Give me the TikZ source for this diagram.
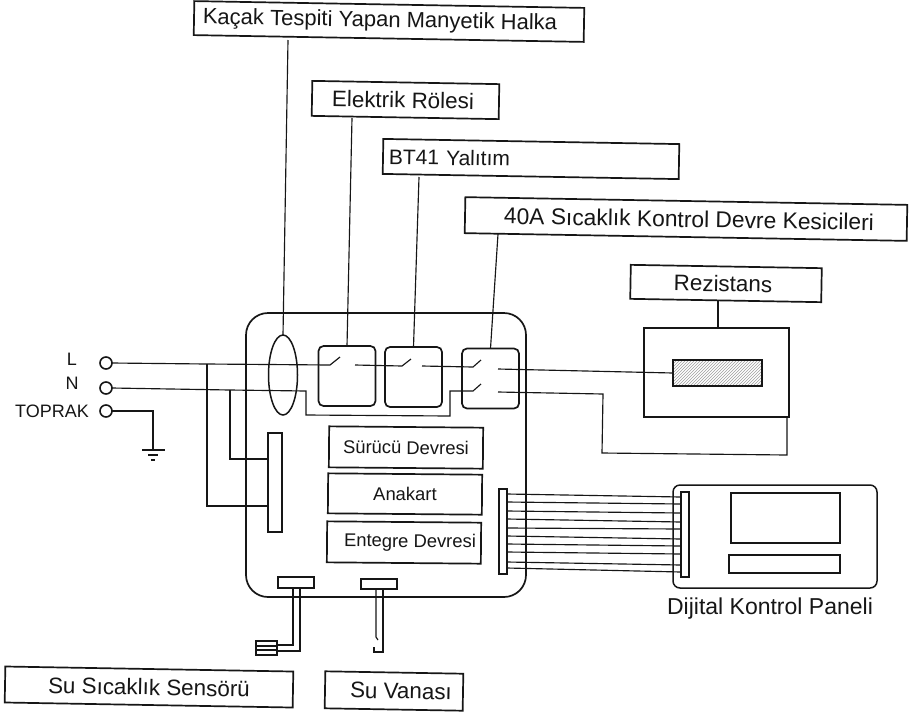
\documentclass[tikz,border=0pt]{standalone}
\usepackage{fontspec}
\setmainfont{Liberation Sans}
\usetikzlibrary{patterns,shapes.geometric}
\definecolor{ink}{HTML}{161616}
\newcommand{\fsz}[1]{\fontsize{#1}{#1}\selectfont}
\tikzset{
  wire/.style={draw=ink,line width=1.15pt},
  boxed/.style={draw=ink,line width=1.7pt,inner sep=0pt,outer sep=0pt,text=ink},
  callout/.style={boxed,font=\fsz{22.4},rotate=-1},
  inner box/.style={boxed,font=\fsz{18.4},rotate=-0.5},
  relay/.style={boxed,rounded corners=5pt,minimum width=57pt,minimum height=60pt},
  terminal/.style={circle,draw=ink,line width=1.6pt,minimum size=12pt,inner sep=0pt,outer sep=0pt},
  plain text/.style={inner sep=0pt,text=ink},
}
\begin{document}
\begin{tikzpicture}[x=1pt,y=-1pt]
\useasboundingbox (0,0) rectangle (912,713);
\fill[white] (0,0) rectangle (912,713);

% callouts
\node[callout,minimum width=390pt,minimum height=34pt,font=\fsz{22}] (kacak) at (389,21.5) {\hspace*{-18pt}Kaçak Tespiti Yapan Manyetik Halka};
\node[callout,minimum width=187pt,minimum height=35pt] (role) at (405.5,100) {\hspace*{-5pt}Elektrik Rölesi};
\node[callout,text width=284pt,align=left,minimum width=296pt,minimum height=35pt,font=\fsz{21}] (bt) at (531,159) {BT41 Yalıtım};
\node[callout,minimum width=442pt,minimum height=36pt,font=\fsz{22.8}] (breaker) at (686,219) {\hspace*{6pt}40A Sıcaklık Kontrol Devre Kesicileri};
\node[callout,minimum width=191pt,minimum height=34pt] (rez) at (726,283.5) {\hspace*{-6pt}Rezistans};
\node[callout,minimum width=288pt,minimum height=36pt] (sensor) at (149,687) {Su Sıcaklık Sensörü};
\node[callout,minimum width=138pt,minimum height=37pt] (valve) at (394,691) {\hspace*{14pt}Su Vanası};

% main board
\node[boxed,rounded corners=22pt,minimum width=280pt,minimum height=284pt] (board) at (386,455) {};
\node[boxed,line width=1.5pt,ellipse,minimum width=29pt,minimum height=80pt] (ring) at (283,375) {};
\node[relay] (r1) at (347,376) {};
\node[relay] (r2) at (413.5,377) {};
\node[relay] (r3) at (490.5,378.5) {};
\node[inner box,minimum width=154pt,minimum height=41pt] (drv) at (406,447.5) {Sürücü Devresi};
\node[inner box,minimum width=154pt,minimum height=40pt] (main) at (405,494) {Anakart};
\node[inner box,minimum width=154pt,minimum height=41pt] (ic) at (404,542.5) {\hspace*{12pt}Entegre Devresi};
\node[boxed,line width=1.4pt,minimum width=14pt,minimum height=99pt] (conL) at (275,482.5) {};
\node[boxed,line width=1.4pt,minimum width=8pt,minimum height=85pt] (conA) at (503,531.5) {};
\node[boxed,line width=1.5pt,minimum width=36pt,minimum height=11pt] (conS) at (296,582.5) {};
\node[boxed,line width=1.5pt,minimum width=36pt,minimum height=10pt] (conV) at (379,584) {};

% heater
\node[boxed,minimum width=145pt,minimum height=89pt] (heatbox) at (716.5,372.5) {};
\node[boxed,pattern=north east lines,pattern color=black!38,minimum width=89pt,minimum height=26pt] (heat) at (717.5,373) {};

% display panel
\node[boxed,line width=1.5pt,rounded corners=7pt,minimum width=204pt,minimum height=103pt] (panel) at (775,536.5) {};
\node[boxed,line width=1.4pt,minimum width=8pt,minimum height=85pt] (conB) at (685,534.5) {};
\node[boxed,line width=1.5pt,minimum width=109pt,minimum height=50pt] (screen) at (785.5,518) {};
\node[boxed,line width=1.5pt,minimum width=111pt,minimum height=18pt] (strip) at (784.5,564) {};
\node[plain text,font=\fsz{23}] (paneltxt) at (770,609) {Dijital Kontrol Paneli};

% terminals
\node[terminal] (tL) at (106,363) {};
\node[terminal] (tN) at (106,388) {};
\node[terminal] (tT) at (106,411) {};
\node[plain text,font=\fsz{18}] (lL) at (72,359) {L};
\node[plain text,font=\fsz{18}] (lN) at (72,383) {N};
\node[plain text,font=\fsz{18}] (lT) at (52,411) {TOPRAK};

% callout leaders
\coordinate (k1) at (288,40);
\coordinate (k2) at (352,118);
\coordinate (k3) at (419,177);
\coordinate (k4) at (498,234);
\coordinate (k5) at (718,300);
\draw[wire] (k1) -- (ring.north);
\draw[wire] (k2) -- (r1.north);
\draw[wire] (k3) -- (r2.north);
\draw[wire] (k4) -- (r3.north);
\draw[wire] (k5) -- (heatbox.north -| k5);

% live and neutral
\coordinate (tapL) at (207,364);
\coordinate (tapN) at (230,390);
\coordinate (s1a) at (330,365); \coordinate (s1b) at (340,357); \coordinate (s1c) at (355,365);
\coordinate (s2a) at (402,366); \coordinate (s2b) at (411,359); \coordinate (s2c) at (422,366);
\coordinate (s3a) at (473,367); \coordinate (s3b) at (481,360); \coordinate (s3c) at (498,369);
\coordinate (s4a) at (473,391); \coordinate (s4b) at (481,384); \coordinate (s4c) at (498,392);
\draw[wire] (tL.east) -- (tapL) -- (s1a) -- (s1b);
\draw[wire] (s1c) -- (s2a) -- (s2b);
\draw[wire] (s2c) -- (s3a) -- (s3b);
\draw[wire] (s3c) -- (heat.west);
\coordinate (n1) at (306,391); \coordinate (n2) at (306,415);
\coordinate (n3) at (450,416); \coordinate (n4) at (450,391);
\draw[wire] (tN.east) -- (tapN) -- (n1) -- (n2) -- (n3) -- (n4) -- (s4a) -- (s4b);
\coordinate (o1) at (603,394); \coordinate (o2) at (602,453); \coordinate (o3) at (787,455);
\draw[wire] (s4c) -- (o1) -- (o2) -- (o3) -- (heatbox.south -| o3);
\coordinate (t1) at (207,506); \coordinate (t2) at (230,459);
\draw[wire] (tapL) -- (t1) -- (conL.west |- t1);
\draw[wire] (tapN) -- (t2) -- (conL.west |- t2);

% earth
\coordinate (e1) at (153,411); \coordinate (e2) at (153,450);
\draw[wire] (tT.east) -- (e1) -- (e2);
\draw[wire,line width=1.3pt] ([xshift=-11pt]e2) -- ([xshift=12pt]e2);
\draw[wire] ([xshift=-5pt,yshift=-5pt]e2) -- ([xshift=5pt,yshift=-5pt]e2);
\draw[wire] ([xshift=-2pt,yshift=-10pt]e2) -- ([xshift=2pt,yshift=-10pt]e2);

% ribbon cable
\foreach \a/\b in {494/497,502/504,511/513,519/522,528/529,536/539,544/546,552/554,562/565,568/572}
  \draw[wire] (conA.east |- 0,\a) -- (conB.west |- 0,\b);

% sensor
\node[boxed,line width=1.4pt,minimum width=21pt,minimum height=14pt] (probe) at (266.5,648) {};
\draw[wire] ([yshift=2pt]probe.west) -- ([yshift=2pt]probe.east);
\draw[wire] ([yshift=-2pt]probe.west) -- ([yshift=-2pt]probe.east);
\coordinate (p1) at (293,645); \coordinate (p2) at (300,651);
\draw[wire] (conS.south -| p1) -- (p1) -- (probe.east |- p1);
\draw[wire] (conS.south -| p2) -- (p2) -- (probe.east |- p2);

% valve
\coordinate (v1) at (376,637); \coordinate (v2) at (378,640);
\coordinate (v3) at (383,652); \coordinate (v4) at (374,652); \coordinate (v5) at (374,647);
\draw[wire] (conV.south -| v1) -- (v1) -- (v2);
\draw[wire] (conV.south -| v3) -- (v3) -- (v4) -- (v5);
\end{tikzpicture}
\end{document}
